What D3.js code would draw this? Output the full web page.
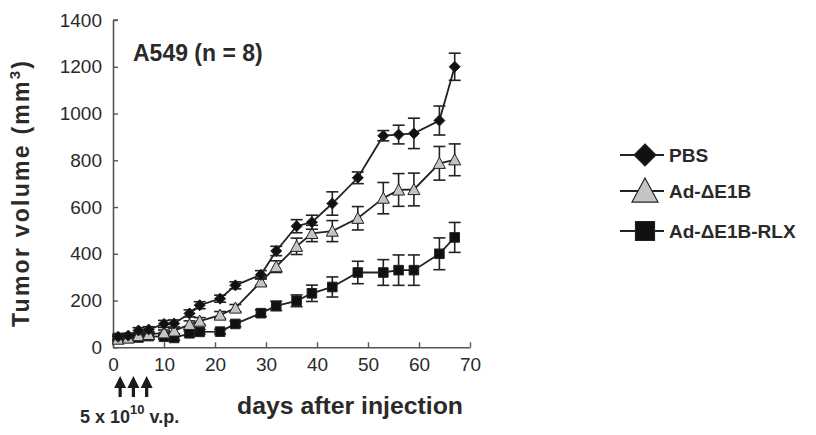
<!DOCTYPE html>
<html>
<head>
<meta charset="utf-8">
<script src="https://cdn.jsdelivr.net/npm/d3@7"></script>
<style>
  html, body { margin: 0; padding: 0; background: #fff; }
  svg { display: block; }
  text { font-family: "Liberation Sans", Arial, Helvetica, sans-serif; fill: #2a2a2a; }
</style>
</head>
<body>
<svg id="chart" width="816" height="435"></svg>
<script>
// Days after injection at which tumours were measured
const days = [1, 3, 5, 7, 10, 12, 15, 17, 21, 24, 29, 32, 36, 39, 43, 48, 53, 56, 59, 64, 67];

// Mean tumour volume (mm³) and error per group
const pbsMean = [45, 50, 72, 76, 100, 102, 145, 180, 208, 265, 310, 412, 518, 535, 615, 725, 905, 910, 915, 970, 1200];
const pbsErr  = [10, 10, 12, 12, 15, 15, 15, 15, 15, 15, 18, 20, 28, 30, 50, 25, 22, 40, 65, 62, 58];

const e1bMean = [35, 40, 50, 55, 62, 70, 98, 112, 138, 168, 280, 345, 432, 487, 497, 552, 638, 673, 675, 787, 802];
const e1bErr  = [10, 10, 10, 10, 12, 12, 15, 15, 15, 15, 15, 25, 35, 35, 45, 50, 67, 70, 70, 72, 68];

const rlxMean = [40, 40, 42, 48, 45, 40, 60, 66, 67, 100, 146, 177, 199, 231, 258, 320, 320, 330, 330, 400, 470];
const rlxErr  = [8, 8, 8, 10, 10, 10, 10, 10, 10, 12, 15, 20, 25, 35, 43, 48, 55, 65, 65, 68, 64];

const seriesNames = ["PBS", "Ad-\u0394E1B", "Ad-\u0394E1B-RLX"];

const xTicks = [0, 10, 20, 30, 40, 50, 60, 70];
const yTicks = [0, 200, 400, 600, 800, 1000, 1200, 1400];

const svg = d3.select("#chart");

const x = d3.scaleLinear().domain([0, 70]).range([113, 470]);
const y = d3.scaleLinear().domain([0, 1400]).range([347.3, 20]);

const axisColor = "#555";
const lineColor = "#222";

// Axes with inward ticks
const yAxis = svg.append("g")
  .attr("transform", `translate(${x(0)},0)`)
  .call(d3.axisLeft(y).tickValues(yTicks).tickFormat(d3.format("d"))
    .tickSizeInner(-5).tickSizeOuter(0).tickPadding(11));
const xAxis = svg.append("g")
  .attr("transform", `translate(0,${y(0)})`)
  .call(d3.axisBottom(x).tickValues(xTicks).tickFormat(d3.format("d"))
    .tickSizeInner(-5).tickSizeOuter(0).tickPadding(10));

[yAxis, xAxis].forEach(g => {
  g.select(".domain").attr("stroke", axisColor).attr("stroke-width", 1.6);
  g.selectAll(".tick line").attr("stroke", axisColor).attr("stroke-width", 1.4);
  g.selectAll(".tick text")
    .style("font-family", "'Liberation Sans', Arial, sans-serif")
    .style("font-size", "19px")
    .attr("fill", "#3a3a3a");
});
// close the top of the left axis with a small inward cap
svg.append("line")
  .attr("x1", x(0)).attr("x2", x(0) + 5)
  .attr("y1", y(1400)).attr("y2", y(1400))
  .attr("stroke", axisColor).attr("stroke-width", 1.4);

// Groups drawn bottom-up so that PBS sits on top
const groups = [
  { name: seriesNames[2], mean: rlxMean, err: rlxErr, marker: "square" },
  { name: seriesNames[1], mean: e1bMean, err: e1bErr, marker: "triangle" },
  { name: seriesNames[0], mean: pbsMean, err: pbsErr, marker: "diamond" }
];

function markerPath(type, s) {
  if (type === "diamond") return `M0,${-s}L${s},0L0,${s}L${-s},0Z`;
  if (type === "triangle") return `M0,${-s}L${s * 1.0},${s * 0.85}L${-s * 1.0},${s * 0.85}Z`;
  return `M${-s},${-s}H${s}V${s}H${-s}Z`;
}
function markerFill(type) { return type === "triangle" ? "#c4c4c4" : "#111"; }

const line = d3.line().x(d => x(d.day)).y(d => y(d.v));
const capHalf = 6;

groups.forEach(gr => {
  const pts = days.map((d, i) => ({ day: d, v: gr.mean[i], e: gr.err[i] }));
  const g = svg.append("g");

  g.append("path").datum(pts)
    .attr("d", line)
    .attr("fill", "none")
    .attr("stroke", lineColor)
    .attr("stroke-width", 1.8);

  const eb = g.selectAll(".eb").data(pts).enter().append("g");
  eb.append("line")
    .attr("x1", d => x(d.day)).attr("x2", d => x(d.day))
    .attr("y1", d => y(d.v + d.e)).attr("y2", d => y(d.v - d.e))
    .attr("stroke", lineColor).attr("stroke-width", 1.6);
  eb.append("line")
    .attr("x1", d => x(d.day) - capHalf).attr("x2", d => x(d.day) + capHalf)
    .attr("y1", d => y(d.v + d.e)).attr("y2", d => y(d.v + d.e))
    .attr("stroke", lineColor).attr("stroke-width", 1.6);
  eb.append("line")
    .attr("x1", d => x(d.day) - capHalf).attr("x2", d => x(d.day) + capHalf)
    .attr("y1", d => y(d.v - d.e)).attr("y2", d => y(d.v - d.e))
    .attr("stroke", lineColor).attr("stroke-width", 1.6);

  const size = gr.marker === "diamond" ? 5.5 : gr.marker === "triangle" ? 6 : 4.8;
  g.selectAll(".mk").data(pts).enter().append("path")
    .attr("transform", d => `translate(${x(d.day)},${y(d.v)})`)
    .attr("d", markerPath(gr.marker, size))
    .attr("fill", markerFill(gr.marker))
    .attr("stroke", "#222")
    .attr("stroke-width", 1);
});

// Axis titles
svg.append("text")
  .attr("transform", "translate(29,194) rotate(-90)")
  .attr("text-anchor", "middle")
  .style("font-size", "23px").style("font-weight", "bold")
  .attr("textLength", 266).attr("lengthAdjust", "spacing")
  .html('Tumor volume (mm<tspan dy="-9" font-size="15px">3</tspan><tspan dy="9">)</tspan>');

svg.append("text")
  .attr("x", 237).attr("y", 414)
  .style("font-size", "24px").style("font-weight", "bold")
  .attr("textLength", 226).attr("lengthAdjust", "spacingAndGlyphs")
  .text("days after injection");

// Panel title
svg.append("text")
  .attr("x", 133).attr("y", 61)
  .style("font-size", "23px").style("font-weight", "bold")
  .text("A549 (n = 8)");

// Injection arrows and dose
const injDays = [1.4, 4, 6.6];
injDays.forEach(d => {
  const cx = x(d);
  svg.append("line")
    .attr("x1", cx).attr("x2", cx).attr("y1", 385).attr("y2", 397)
    .attr("stroke", "#1a1a1a").attr("stroke-width", 3.2);
  svg.append("path")
    .attr("d", `M${cx},376L${cx + 6},388L${cx - 6},388Z`)
    .attr("fill", "#1a1a1a");
});
svg.append("text")
  .attr("x", 80).attr("y", 423)
  .style("font-size", "18px").style("font-weight", "bold")
  .html('5 x 10<tspan dy="-9" font-size="13px">10</tspan><tspan dy="9"> v.p.</tspan>');

// Legend
const legendItems = [
  { name: seriesNames[0], marker: "diamond", y: 155, s: 11 },
  { name: seriesNames[1], marker: "triangle", y: 191, s: 13 },
  { name: seriesNames[2], marker: "square", y: 231, s: 9.5 }
];
const lg = svg.append("g");
legendItems.forEach(it => {
  lg.append("line")
    .attr("x1", 620).attr("x2", 664).attr("y1", it.y).attr("y2", it.y)
    .attr("stroke", lineColor).attr("stroke-width", 1.8);
  lg.append("path")
    .attr("transform", `translate(645,${it.y})`)
    .attr("d", markerPath(it.marker, it.s))
    .attr("fill", markerFill(it.marker))
    .attr("stroke", "#222").attr("stroke-width", 1.2);
  lg.append("text")
    .attr("x", 669).attr("y", it.y + 7)
    .style("font-size", "19px").style("font-weight", "bold")
    .text(it.name);
});
</script>
</body>
</html>
